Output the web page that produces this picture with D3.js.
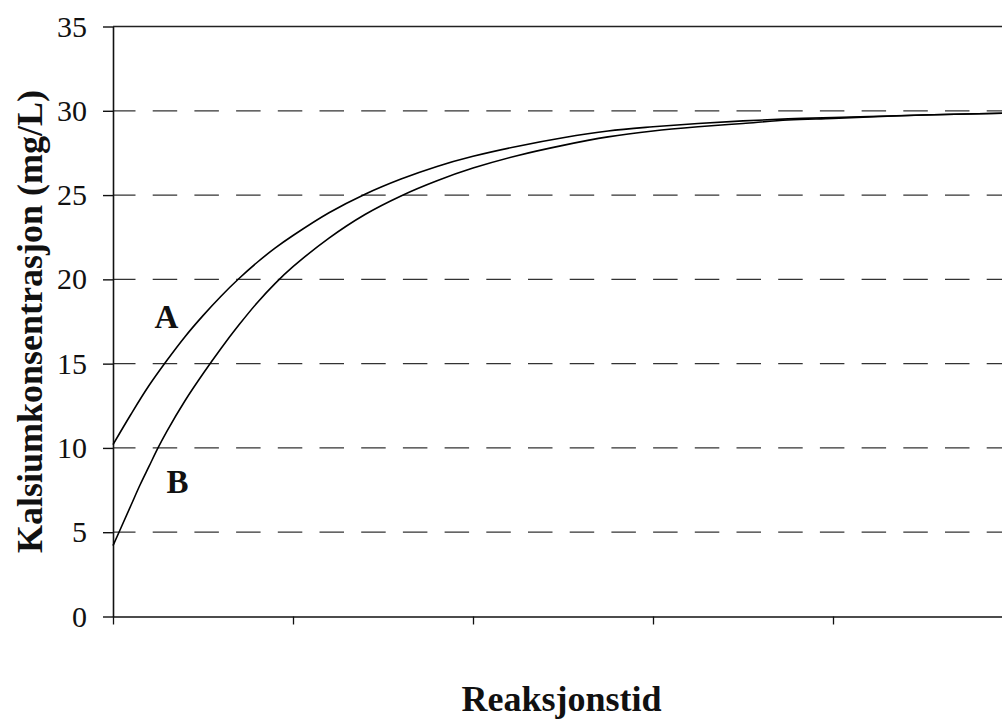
<!DOCTYPE html>
<html>
<head>
<meta charset="utf-8">
<script src="https://cdn.jsdelivr.net/npm/d3@7/dist/d3.min.js"></script>
<style>
  html, body { margin: 0; padding: 0; background: #fff; }
  svg { display: block; }
  text { font-family: "Liberation Serif", "Times New Roman", serif; fill: #111; }
</style>
</head>
<body>
<svg id="chart" width="1002" height="719"></svg>
<script>
// ---- data ----
const timeA = [0, 0.1, 0.2, 0.3, 0.4, 0.5, 0.6, 0.7, 0.8, 0.9, 1.0, 1.2, 1.4, 1.6, 1.8, 2.0, 2.25, 2.5, 2.75, 3.0, 3.25, 3.5, 3.75, 4.0, 4.5, 4.94];
const seriesA = [10.2, 12.0, 13.7, 15.2, 16.6, 17.85, 19.0, 20.05, 21.0, 21.85, 22.6, 23.95, 25.05, 25.95, 26.7, 27.3, 27.9, 28.4, 28.8, 29.05, 29.25, 29.4, 29.52, 29.6, 29.75, 29.85];
const timeB = [0, 0.05, 0.1, 0.15, 0.2, 0.25, 0.3, 0.4, 0.5, 0.6, 0.7, 0.8, 0.9, 1.0, 1.2, 1.4, 1.6, 1.8, 2.0, 2.25, 2.5, 2.75, 3.0, 3.25, 3.5, 3.75, 4.0, 4.5, 4.94];
const seriesB = [4.2, 5.4, 6.6, 7.8, 8.9, 10.0, 11.0, 12.8, 14.4, 15.9, 17.3, 18.6, 19.75, 20.75, 22.45, 23.85, 24.95, 25.85, 26.6, 27.35, 27.95, 28.45, 28.8, 29.05, 29.25, 29.45, 29.55, 29.75, 29.85];
const yTicks = [0, 5, 10, 15, 20, 25, 30, 35];
const xTicks = [0, 1, 2, 3, 4, 5];
const curveLabels = ["A", "B"];
const yTitle = "Kalsiumkonsentrasjon (mg/L)";
const xTitle = "Reaksjonstid";

// ---- layout ----
const svg = d3.select("#chart");
const mLeft = 113, mRight = 1013, mTop = 26.5, mBottom = 616.5;

const x = d3.scaleLinear().domain([0, 5]).range([mLeft, mRight]);
const y = d3.scaleLinear().domain([0, 35]).range([mBottom, mTop]);

// dashed gridlines
svg.append("g")
  .selectAll("line")
  .data(yTicks.filter(v => v > 0 && v < 35))
  .join("line")
  .attr("x1", mLeft).attr("x2", mRight)
  .attr("y1", d => y(d)).attr("y2", d => y(d))
  .attr("stroke", "#333")
  .attr("stroke-width", 1.3)
  .attr("stroke-dasharray", "24.5,17.2")
  .attr("stroke-dashoffset", 2);

// top border (solid)
svg.append("line")
  .attr("x1", mLeft).attr("x2", mRight)
  .attr("y1", y(35)).attr("y2", y(35))
  .attr("stroke", "#222").attr("stroke-width", 1.5);

// y axis
const yAxis = svg.append("g")
  .attr("transform", `translate(${mLeft},0)`)
  .call(d3.axisLeft(y).tickValues(yTicks).tickSize(10).tickSizeOuter(0).tickPadding(16));
yAxis.attr("font-family", "'Liberation Serif', 'Times New Roman', serif");
yAxis.select(".domain").attr("stroke", "#111").attr("stroke-width", 1.6);
yAxis.selectAll(".tick line").attr("stroke", "#111").attr("stroke-width", 1.4);
yAxis.selectAll(".tick text")
  .style("font-family", "'Liberation Serif', 'Times New Roman', serif")
  .style("font-size", "30px").attr("fill", "#111");

// x axis
const xAxis = svg.append("g")
  .attr("transform", `translate(0,${mBottom})`)
  .call(d3.axisBottom(x).tickValues(xTicks).tickSize(8).tickSizeOuter(0).tickFormat(""));
xAxis.select(".domain").attr("stroke", "#111").attr("stroke-width", 1.6);
xAxis.selectAll(".tick line").attr("stroke", "#111").attr("stroke-width", 1.3);

// curves
const line = d3.line().x(d => x(d[0])).y(d => y(d[1])).curve(d3.curveCatmullRom.alpha(0.5));
const dataA = timeA.map((t, i) => [t, seriesA[i]]);
const dataB = timeB.map((t, i) => [t, seriesB[i]]);
[dataA, dataB].forEach(d => {
  svg.append("path")
    .datum(d)
    .attr("d", line)
    .attr("fill", "none")
    .attr("stroke", "#000")
    .attr("stroke-width", 1.6);
});

// curve labels
svg.append("text").attr("x", 166.5).attr("y", 328)
  .attr("text-anchor", "middle").style("font-size", "33px").style("font-weight", "bold")
  .text(curveLabels[0]);
svg.append("text").attr("x", 177.5).attr("y", 493)
  .attr("text-anchor", "middle").style("font-size", "33px").style("font-weight", "bold")
  .text(curveLabels[1]);

// axis titles
svg.append("text")
  .attr("transform", "translate(42,321.5) rotate(-90)")
  .attr("text-anchor", "middle")
  .style("font-size", "36px").style("font-weight", "bold")
  .text(yTitle);
svg.append("text")
  .attr("x", 561.5).attr("y", 711)
  .attr("text-anchor", "middle")
  .style("font-size", "36px").style("font-weight", "bold")
  .text(xTitle);
</script>
</body>
</html>
